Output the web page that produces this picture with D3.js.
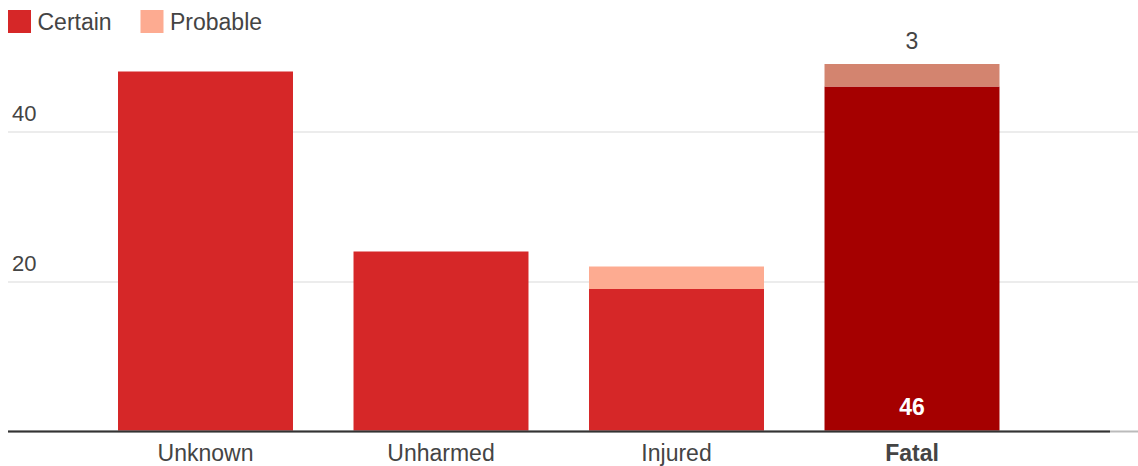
<!DOCTYPE html>
<html lang="en">
<head>
    <meta charset="UTF-8">
    <title>Outcome by category</title>
    <script src="https://d3js.org/d3.v7.min.js"></script>
    <style>
        body {
            margin: 0;
            background: #fff;
            font-family: "Liberation Sans", Arial, sans-serif;
        }
        svg {
            display: block;
        }
    </style>
</head>
<body>
    <svg width="1138" height="466"></svg>

    <script>
        // data
        const categories = ["Unknown", "Unharmed", "Injured", "Fatal"];
        const certain = [48, 24, 19, 46];
        const probable = [0, 0, 3, 3];
        const yTicks = [20, 40];
        const seriesNames = ["Certain", "Probable"];
        const highlight = "Fatal";

        const colors = {
            certain: "#d62728",
            probable: "#fdab91",
            certainHi: "#a50000",
            probableHi: "#d3846f",
            text: "#444"
        };

        const svg = d3.select("svg");

        const x = d3.scaleBand()
            .domain(categories)
            .range([87.75, 1029.75])
            .paddingInner(0.257)
            .paddingOuter(0.1285);

        const y = d3.scaleLinear()
            .domain([0, 40])
            .range([431.5, 131.5]);

        // gridlines + tick labels
        const yAxis = svg.append("g")
            .attr("transform", "translate(8,0)")
            .call(d3.axisRight(y).tickValues(yTicks).tickSize(1130));
        yAxis.select(".domain").remove();
        yAxis.selectAll("line").attr("stroke", "#d9d9d9");
        yAxis.selectAll("text")
            .attr("x", 4)
            .attr("dy", -11.5)
            .attr("text-anchor", "start")
            .attr("fill", colors.text)
            .style("font-size", "22px")
            .style("font-family", "'Liberation Sans', Arial, sans-serif");

        const rows = categories.map((c, i) => ({
            cat: c, certain: certain[i], probable: probable[i]
        }));

        // stacked bars
        svg.append("g").selectAll("rect.certain")
            .data(rows)
            .join("rect")
            .attr("class", "certain")
            .attr("x", d => x(d.cat))
            .attr("width", x.bandwidth())
            .attr("y", d => y(d.certain))
            .attr("height", d => y(0) - y(d.certain))
            .attr("fill", d => d.cat === highlight ? colors.certainHi : colors.certain);

        svg.append("g").selectAll("rect.probable")
            .data(rows.filter(d => d.probable > 0))
            .join("rect")
            .attr("class", "probable")
            .attr("x", d => x(d.cat))
            .attr("width", x.bandwidth())
            .attr("y", d => y(d.certain + d.probable))
            .attr("height", d => y(d.certain) - y(d.certain + d.probable))
            .attr("fill", d => d.cat === highlight ? colors.probableHi : colors.probable);

        // baseline
        svg.append("line")
            .attr("x1", 8).attr("x2", 1138)
            .attr("y1", y(0)).attr("y2", y(0))
            .attr("stroke", "#bbb").attr("stroke-width", 2);
        svg.append("line")
            .attr("x1", 8).attr("x2", 1110)
            .attr("y1", y(0)).attr("y2", y(0))
            .attr("stroke", "#333").attr("stroke-width", 2);

        // category labels
        const xAxis = svg.append("g")
            .attr("transform", `translate(0,${y(0)})`)
            .call(d3.axisBottom(x).tickSize(0).tickPadding(0));
        xAxis.select(".domain").remove();
        xAxis.selectAll("text")
            .attr("y", 29.5)
            .attr("dy", null)
            .attr("fill", colors.text)
            .style("font-size", "23px")
            .style("font-weight", d => d === highlight ? "bold" : "normal")
            .style("font-family", "'Liberation Sans', Arial, sans-serif");

        // annotations on the highlighted bar
        const hi = rows.find(d => d.cat === highlight);
        const cx = x(hi.cat) + x.bandwidth() / 2;
        svg.append("text")
            .attr("x", cx)
            .attr("y", y(hi.certain + hi.probable) - 15)
            .attr("text-anchor", "middle")
            .attr("fill", colors.text)
            .style("font-size", "23px")
            .text(hi.probable);
        svg.append("text")
            .attr("x", cx)
            .attr("y", y(0) - 16.5)
            .attr("text-anchor", "middle")
            .attr("fill", "#fff")
            .style("font-size", "23px")
            .style("font-weight", "bold")
            .text(hi.certain);

        // legend
        const legendX = [8, 140.5];
        const legendColors = [colors.certain, colors.probable];
        const legend = svg.append("g").selectAll("g")
            .data(seriesNames)
            .join("g")
            .attr("transform", (d, i) => `translate(${legendX[i]},10)`);
        legend.append("rect")
            .attr("width", 23).attr("height", 23)
            .attr("fill", (d, i) => legendColors[i]);
        legend.append("text")
            .attr("x", 29.5)
            .attr("y", 19.5)
            .attr("fill", colors.text)
            .style("font-size", "23px")
            .text(d => d);
    </script>
</body>
</html>
